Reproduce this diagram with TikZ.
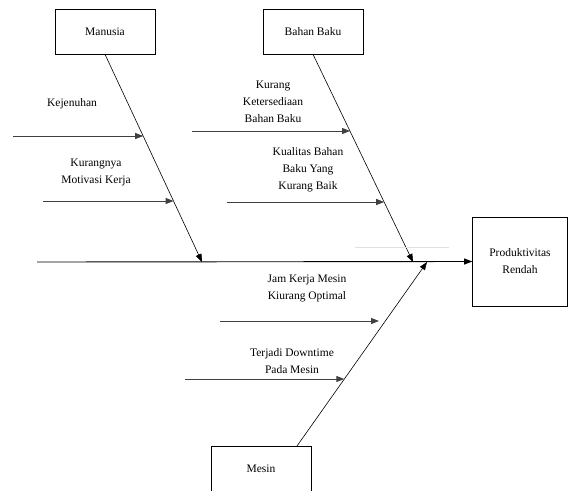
\documentclass[tikz,border=0pt]{standalone}
\usepackage{fontspec}
\setmainfont{Liberation Serif}
\usetikzlibrary{arrows.meta,calc}
\begin{document}
\begin{tikzpicture}[x=1pt,y=-1pt,
  box/.style={draw, line width=0.6pt, inner sep=0pt, minimum width=100pt, minimum height=45pt, align=center, font=\fontsize{11.5}{17}\selectfont},
  lbl/.style={align=center, inner sep=0pt, font=\fontsize{11.5}{17}\selectfont},
  arr/.style={-{Triangle[length=8pt,width=6pt]}, line width=0.6pt},
  spine/.style={arr, line width=0.9pt},
  harr/.style={arr, line width=1pt, draw=black!75, fill=black}]
\useasboundingbox (0,0) rectangle (569,490);
\clip (0,0) rectangle (569,490);
% boxes
\node[box] (man) at (105,31.5) {Manusia};
\node[box] (bb) at (313,31.5) {Bahan Baku};
\node[box, minimum width=95pt, minimum height=89pt] (prod) at (520,261.5) {Produktivitas\\Rendah};
\node[box, minimum height=46pt] (mesin) at (261,469) {Mesin};
% labels
\node[lbl] (kej) at (72,104) {Kejenuhan};
\node[lbl] (mot) at (96,172) {Kurangnya\\Motivasi Kerja};
\node[lbl] (ket) at (273,102) {Kurang\\Ketersediaan\\Bahan Baku};
\node[lbl] (kua) at (308,170) {Kualitas Bahan\\Baku Yang\\Kurang Baik};
\node[lbl] (jam) at (307,288) {Jam Kerja Mesin\\Kiurang Optimal};
\node[lbl] (dow) at (292,361) {Terjadi Downtime\\Pada Mesin};
% spine
\coordinate (sp0) at (37,262);
\draw[spine] (sp0) -- (prod.west);
% main bones
\coordinate (tman) at (202,262);
\coordinate (tbb) at (413,262);
\coordinate (tmes) at (427,262);
\coordinate (mesTop) at (297,446);
\draw[arr] (man.south) -- (tman);
\draw[arr] (bb.south) -- (tbb);
\draw[arr] (mesTop) -- (tmes);
% cause arrows
\coordinate (k1) at ($(man.south)!0.394!(tman)$);
\coordinate (k0) at (13,136);
\draw[harr] (k0) -- (k0 -| k1);
\coordinate (m1) at ($(man.south)!0.707!(tman)$);
\coordinate (m0) at (43,201);
\draw[harr] (m0) -- (m0 -| m1);
\coordinate (b1) at ($(bb.south)!0.370!(tbb)$);
\coordinate (b0) at (192,131);
\draw[harr] (b0) -- (b0 -| b1);
\coordinate (q1) at ($(bb.south)!0.712!(tbb)$);
\coordinate (q0) at (227,202);
\draw[harr] (q0) -- (q0 -| q1);
\coordinate (j0) at (220,321);
\coordinate (j1) at (379,321);
\draw[harr] (j0) -- (j1);
\coordinate (d1) at ($(mesTop)!0.364!(tmes)$);
\coordinate (d0) at (185,379);
\draw[harr] (d0) -- (d0 -| d1);
% faint line
\coordinate (f0) at (355,247);
\coordinate (f1) at (449,247);
\draw[draw=blue!15!black!12, line width=0.8pt] (f0) -- (f1);
\end{tikzpicture}
\end{document}
